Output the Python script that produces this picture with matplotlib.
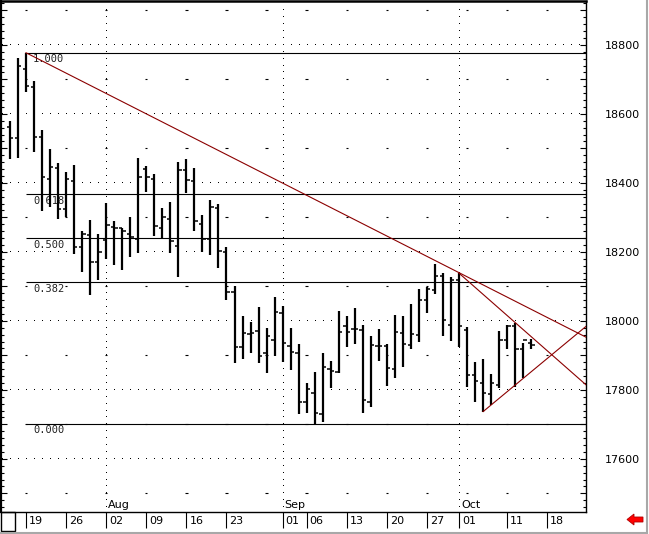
import numpy as np
import pandas as pd
import matplotlib
matplotlib.use('Agg')
import matplotlib.pyplot as plt
from matplotlib.patches import Rectangle, Polygon
from matplotlib.lines import Line2D
from matplotlib.ticker import FixedLocator, FuncFormatter

# daily OHLC bars, 15 Jul - 14 Oct 1999
dates = pd.bdate_range('1999-07-15', '1999-10-14')
opens = [18561, 18531, 18730, 18679, 18532, 18411, 18443, 18324, 18406, 18215,
         18249, 18172, 18233, 18272, 18269, 18251, 18238, 18440, 18411, 18270,
         18296, 18217, 18436, 18404, 18281, 18237, 18327, 18200, 18083, 17923,
         17962, 17971, 17906, 17945, 18022, 17926, 17906, 17766, 17790, 17730,
         17861, 17853, 17984, 17977, 17974, 17766, 17928, 17926, 17860, 17964,
         17930, 17959, 18059, 18088, 18130, 17988, 18119, 17974, 17844, 17819,
         17788, 17815, 17945, 17986, 17919, 17935]
highs = [18580, 18761, 18777, 18694, 18554, 18499, 18457, 18431, 18452, 18259,
         18293, 18252, 18342, 18290, 18270, 18301, 18472, 18449, 18426, 18327,
         18345, 18461, 18469, 18443, 18307, 18351, 18338, 18215, 18101, 18015,
         17996, 18040, 17979, 18069, 18044, 17979, 17933, 17819, 17851, 17906,
         17883, 18029, 18015, 18037, 17988, 17957, 17976, 17932, 18017, 18015,
         18049, 18092, 18098, 18165, 18138, 18128, 18138, 17982, 17882, 17890,
         17846, 17971, 17988, 17995, 17935, 17947]
lows = [18470, 18473, 18662, 18488, 18317, 18331, 18295, 18302, 18194, 18143,
        18075, 18117, 18180, 18162, 18146, 18185, 18196, 18373, 18247, 18241,
        18196, 18126, 18370, 18259, 18199, 18191, 18153, 18059, 17877, 17889,
        17908, 17879, 17848, 17899, 17882, 17858, 17730, 17734, 17702, 17708,
        17805, 17850, 17923, 17933, 17732, 17750, 17885, 17810, 17834, 17866,
        17918, 17940, 18024, 18078, 17955, 17942, 17923, 17808, 17766, 17737,
        17755, 17805, 17918, 17808, 17834, 17918]
closes = [18531, 18740, 18680, 18533, 18418, 18446, 18324, 18411, 18215, 18252,
          18172, 18199, 18278, 18270, 18259, 18243, 18418, 18418, 18276, 18302,
          18230, 18438, 18409, 18288, 18237, 18331, 18201, 18085, 17924, 17966,
          17966, 17899, 17955, 18025, 17935, 17911, 17766, 17802, 17733, 17866,
          17855, 17967, 17969, 17975, 17771, 17930, 17926, 17863, 17969, 17933,
          17962, 18059, 18093, 18131, 18003, 18119, 17986, 17844, 17827, 17790,
          17819, 17945, 17986, 17919, 17945, 17930]

week_dates = ['1999-07-19', '1999-07-26', '1999-08-02', '1999-08-09', '1999-08-16',
              '1999-08-23', '1999-09-01', '1999-09-06', '1999-09-13', '1999-09-20',
              '1999-09-27', '1999-10-01', '1999-10-11', '1999-10-18']
week_labels = ['19', '26', '02', '09', '16', '23', '01', '06', '13', '20', '27',
               '01', '11', '18']
month_dates = ['1999-08-02', '1999-09-01', '1999-10-01']
month_labels = ['Aug', 'Sep', 'Oct']

fib_ratios = [1.0, 0.618, 0.5, 0.382, 0.0]
trend_lines = [(('1999-07-19', 18777), ('1999-09-28', 18175)),
               (('1999-10-01', 18138), ('1999-10-12', 17995)),
               (('1999-10-06', 17737), ('1999-10-12', 17814))]
price_labels = [17600, 17800, 18000, 18200, 18400, 18600, 18800]

W, H = 649, 534
START = '1999-07-15'


def pos(d):
    d = str(pd.Timestamp(d).date())
    return int(np.busday_count(START, d))


def box(x0, y0, x1, y1):
    # pixel box (y from top) -> figure fraction
    return [x0 / W, 1 - y1 / H, (x1 - x0) / W, (y1 - y0) / H]


fig = plt.figure(figsize=(W / 100, H / 100), dpi=100)
fig.patch.set_facecolor('white')

ax = fig.add_axes(box(1, 1, 586, 512))
x = np.arange(len(dates))
xmin, xmax = -1.117, 71.83
ymin, ymax = 17446, 18927
ax.set_xlim(xmin, xmax)
ax.set_ylim(ymin, ymax)

# dotted grid
grid_x = np.arange(-1, 72)
for lvl in range(17600, 18801, 200):
    ax.plot(grid_x, [lvl] * len(grid_x), ls='none', marker=',', color='k', zorder=1)
mondays = np.array([pos(d) for d in pd.date_range('1999-07-12', '1999-10-25', freq='W-MON')])
for lvl in range(17500, 18901, 200):
    ax.hlines([lvl] * len(mondays), mondays - 0.15, mondays + 0.15,
              color='k', lw=0.8, zorder=1)
grid_y = np.arange(17460, 18920, 20)
for d, lab in zip(month_dates, month_labels):
    ax.plot([pos(d)] * len(grid_y), grid_y, ls='none', marker=',', color='k', zorder=1)
    ax.annotate(lab, (pos(d), ymin), xytext=(1.5, 1.2),
                textcoords='offset points', ha='left', va='bottom', fontsize=8)

# fibonacci retracement
hi, lo = max(highs), min(lows)
x_hi = x[highs.index(hi)]
for r in fib_ratios:
    lvl = lo + r * (hi - lo)
    ax.hlines(lvl, x_hi, xmax + 5, color='k', lw=0.8, zorder=2)
    ax.annotate('%.3f' % r, (x_hi, lvl), xytext=(5, -1.2), textcoords='offset points',
                ha='left', va='top', fontsize=7.5, family='DejaVu Sans Mono',
                color='#222222', zorder=1)

# trend lines
for (d1, p1), (d2, p2) in trend_lines:
    x1, x2 = pos(d1), pos(d2)
    slope = (p2 - p1) / (x2 - x1)
    xe = xmax + 5
    ax.plot([x1, xe], [p1, p1 + slope * (xe - x1)], color='#8b0000', lw=0.8, zorder=4)

# bars
ax.vlines(x, lows, highs, color='k', lw=1.6, zorder=3)
ax.hlines(opens, x - 0.42, x, color='k', lw=1.1, zorder=3)
ax.hlines(closes, x, x + 0.42, color='k', lw=1.1, zorder=3)

# axes styling
for s in ax.spines.values():
    s.set_linewidth(1.0)
ax.spines['left'].set_linewidth(1.6)
ax.spines['top'].set_linewidth(1.8)
ax.set_xticks([])
ax.yaxis.set_major_locator(FixedLocator(np.arange(17500, 18901, 100)))
ax.yaxis.set_minor_locator(FixedLocator(np.arange(17460, 18921, 20)))
ax.yaxis.set_major_formatter(FuncFormatter(lambda v, p: '%d' % v if int(round(v)) in price_labels else ''))
ax.tick_params(axis='y', which='both', direction='in', left=True, right=True,
               labelleft=False, labelright=True, width=0.8, color='k')
ax.tick_params(axis='y', which='major', length=4.5, pad=13.5, labelsize=8)
ax.tick_params(axis='y', which='minor', length=2.5)

# date panel
ax2 = fig.add_axes(box(1, 512, 586, 531))
ax2.set_xlim(xmin, xmax)
ax2.set_ylim(0, 1)
ax2.axis('off')
wp = [pos(d) for d in week_dates]
ax2.vlines(wp, 0.16, 1, color='k', lw=0.8)
for p, lab in zip(wp, week_labels):
    ax2.annotate(lab, (p, 0.5), xytext=(2.2, 0), textcoords='offset points',
                 ha='left', va='center', fontsize=8)

fig.add_artist(Rectangle((0.5 / W, 1 - 531 / H), 14 / W, 19 / H, fill=False,
                         lw=1, ec='k', transform=fig.transFigure))

# red arrow
arrow = [(627, 519.5), (634, 514), (634, 517), (643, 517), (643, 522), (634, 522), (634, 525)]
fig.add_artist(Polygon([(px / W, 1 - py / H) for px, py in arrow], closed=True,
                       fc='#ff0000', ec='#b00000', lw=0.6, transform=fig.transFigure))

# window border
fig.add_artist(Line2D([0, 646.5 / W], [1 - 532.5 / H] * 2, color='#a8a8a8', lw=1.5,
                      transform=fig.transFigure))
fig.add_artist(Line2D([646.5 / W] * 2, [0, 1], color='#a8a8a8', lw=1.5,
                      transform=fig.transFigure))

fig.savefig('out.png', dpi=100)
